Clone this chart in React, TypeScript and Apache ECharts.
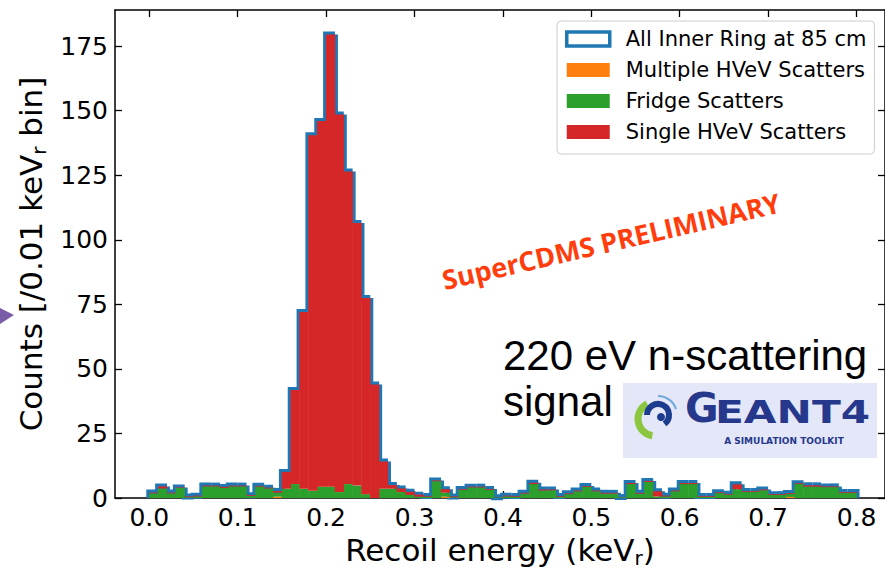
import React, { useEffect, useRef } from "react";
import * as echarts from "echarts";

// ---------- data (counts per 0.01 keVr bin, 0.00 .. 0.80) ----------
const binWidth = 0.01;
const fridgeScatters = [
  1.8, 3.7, 1.8, 3.9, 0.3, 0.6, 4.5, 4.5, 3.9, 4.5,
  4.5, 0.8, 4.4, 3.7, 1.6, 3.6, 5.4, 3.6, 2.8, 4.4,
  4.4, 2.3, 5.4, 4.8, 1.5, 0.0, 3.6, 3.6, 2.3, 1.2,
  0.5, 0.5, 6.5, 1.6, 0.3, 3.2, 4.1, 4.1, 3.2, 0.2,
  0.6, 0.5, 1.7, 5.4, 2.9, 3.0, 0.5, 1.5, 2.6, 4.3,
  2.6, 1.7, 1.7, 0.3, 5.4, 1.7, 6.2, 0.6, 0.6, 2.6,
  5.4, 5.4, 0.5, 0.5, 1.9, 1.3, 3.4, 2.4, 2.4, 3.0,
  1.2, 1.2, 1.2, 5.4, 4.4, 4.4, 4.2, 4.2, 2.0, 2.0,
];
const multipleScatters = [
  0, 0, 0, 0, 0, 0, 0, 0, 0, 0,
  0, 0, 0, 0, 0.5, 0, 0, 0, 0, 0,
  0, 0, 0, 0, 0, 0, 0, 0, 0, 0,
  0, 0, 0, 0.5, 0, 0, 0, 0, 0, 0,
  0, 0, 0, 0, 0, 0, 0, 0, 0, 0,
  0, 0, 0, 0, 0, 0, 0, 0, 0, 0,
  0, 0, 0, 0, 0, 0, 0, 0, 0, 0,
  0, 0, 0.4, 0, 0, 0, 0, 0, 0, 0,
];
const singleScatters = [
  0.3, 0.8, 0.3, 0.2, 0.3, 0.3, 0.3, 0.3, 0.4, 0.3,
  0.3, 0.3, 0.3, 0.3, 0.6, 6.5, 36.4, 68.4, 137.7, 141.6,
  175.1, 146.2, 121.1, 101.7, 76.0, 44.0, 10.5, 1.4, 1.4, 1.2,
  0.8, 0.3, 0.3, 1.3, 0.3, 0.3, 0.3, 0.3, 0.3, 0.1,
  0.3, 0.3, 0.3, 0.5, 0.4, 0.3, 0.3, 0.3, 0.3, 0.3,
  0.3, 0.3, 0.3, 0.1, 0.4, 0.3, 0.4, 2.0, 0.3, 0.3,
  0.4, 0.4, 0.3, 0.3, 0.3, 0.3, 1.9, 0.3, 0.3, 0.3,
  0.3, 0.3, 0.3, 0.3, 0.5, 0.5, 0.3, 0.3, 0.3, 0.3,
];
const xTicks = [0, 0.1, 0.2, 0.3, 0.4, 0.5, 0.6, 0.7, 0.8];
const yTicks = [0, 25, 50, 75, 100, 125, 150, 175];
const xRange = [-0.0388, 0.8322];
const yRange = [0, 189];

const seriesNames = {
  all: "All Inner Ring at 85 cm",
  multiple: "Multiple HVeV Scatters",
  fridge: "Fridge Scatters",
  single: "Single HVeV Scatters",
};
const colors = { all: "#1f77b4", multiple: "#ff7f0e", fridge: "#2ca02c", single: "#d62728" };

const FONT = "DejaVu Sans";

function buildStacks() {
  const m: number[][] = [];
  const f: number[][] = [];
  const s: number[][] = [];
  const outline: number[][] = [];
  let prev = 0;
  for (let i = 0; i < singleScatters.length; i++) {
    const x0 = i * binWidth;
    const x1 = x0 + binWidth;
    const a = multipleScatters[i];
    const b = a + fridgeScatters[i];
    const c = b + singleScatters[i];
    m.push([x0, x1, 0, a]);
    f.push([x0, x1, a, b]);
    s.push([x0, x1, b, c]);
    outline.push([x0, x1, c, prev, i === singleScatters.length - 1 ? 1 : 0]);
    prev = c;
  }
  return { m, f, s, outline };
}

const renderBar = (_params: any, api: any) => {
  const x0 = api.value(0);
  const x1 = api.value(1);
  const y0 = api.value(2);
  const y1 = api.value(3);
  if (!(y1 > y0)) return null;
  const p0 = api.coord([x0, y1]);
  const p1 = api.coord([x1, y0]);
  return {
    type: "rect",
    shape: { x: p0[0] - 0.25, y: p0[1], width: p1[0] - p0[0] + 0.5, height: p1[1] - p0[1] },
    style: { fill: api.visual("color") },
  };
};

const renderOutline = (_params: any, api: any) => {
  const x0 = api.value(0);
  const x1 = api.value(1);
  const top = api.value(2);
  const prev = api.value(3);
  const last = api.value(4);
  const pts = [api.coord([x0, prev]), api.coord([x0, top]), api.coord([x1, top])];
  if (last) pts.push(api.coord([x1, 0]));
  return {
    type: "polyline",
    shape: { points: pts },
    style: { stroke: colors.all, lineWidth: 6, fill: null, lineJoin: "miter", lineCap: "butt" },
  };
};

export default function App() {
  const ref = useRef<HTMLDivElement>(null);
  useEffect(() => {
    if (!ref.current) return;
    const chart = echarts.init(ref.current, null, { renderer: "svg" });
    const { m, f, s, outline } = buildStacks();
    const axisLineStyle = { color: "#000", width: 1.5 };
    const tickStyle = { color: "#000", width: 1.3 };
    const rich = {
      a: { fontFamily: FONT, fontSize: 31, color: "#000", lineHeight: 36 },
      s: { fontFamily: FONT, fontSize: 20, color: "#000", lineHeight: 20, verticalAlign: "bottom" },
    };
    chart.setOption({
      animation: false,
      backgroundColor: "#fff",
      grid: { left: 115, top: 10, width: 770, height: 488, containLabel: false, outerBoundsMode: "none" },
      xAxis: [
        {
          type: "value",
          min: xRange[0],
          max: xRange[1],
          position: "bottom",
          axisLine: { show: true, onZero: false, lineStyle: axisLineStyle },
          splitLine: { show: false },
          axisTick: { show: true, inside: true, length: 7, lineStyle: tickStyle, customValues: xTicks },
          axisLabel: {
            customValues: xTicks,
            formatter: (v: number) => v.toFixed(1),
            fontFamily: FONT,
            fontSize: 25,
            color: "#000",
            margin: 7,
          },
          name: "{a|Recoil energy (keV}{s|r}{a|)}",
          nameLocation: "middle",
          nameGap: 27,
          nameTextStyle: { rich },
        },
        {
          type: "value",
          min: xRange[0],
          max: xRange[1],
          position: "top",
          axisLine: { show: true, onZero: false, lineStyle: axisLineStyle },
          splitLine: { show: false },
          axisTick: { show: true, inside: true, length: 7, lineStyle: tickStyle, customValues: xTicks },
          axisLabel: { show: false },
        },
      ],
      yAxis: [
        {
          type: "value",
          min: yRange[0],
          max: yRange[1],
          position: "left",
          axisLine: { show: true, onZero: false, lineStyle: axisLineStyle },
          splitLine: { show: false },
          axisTick: { show: true, inside: true, length: 7, lineStyle: tickStyle, customValues: yTicks },
          axisLabel: {
            customValues: yTicks,
            fontFamily: FONT,
            fontSize: 25,
            color: "#000",
            margin: 7,
          },
          name: "{a|Counts [/0.01 keV}{s|r}{a| bin]}",
          nameLocation: "middle",
          nameGap: 54,
          nameTextStyle: { rich },
        },
        {
          type: "value",
          min: yRange[0],
          max: yRange[1],
          position: "right",
          axisLine: { show: true, onZero: false, lineStyle: axisLineStyle },
          splitLine: { show: false },
          axisTick: { show: true, inside: true, length: 7, lineStyle: tickStyle, customValues: yTicks },
          axisLabel: { show: false },
        },
      ],
      legend: {
        orient: "vertical",
        left: 557,
        top: 21,
        padding: [6, 8, 10, 8],
        itemWidth: 43,
        itemHeight: 14,
        itemGap: 7,
        selectedMode: false,
        backgroundColor: "rgba(255,255,255,0.8)",
        borderColor: "#cccccc",
        borderWidth: 1,
        borderRadius: 4,
        textStyle: { fontFamily: FONT, fontSize: 21, color: "#000", lineHeight: 24, padding: [0, 0, 0, 11] },
        data: [
          { name: seriesNames.all, icon: "rect", itemStyle: { color: "#ffffff", borderColor: colors.all, borderWidth: 3.5 } },
          { name: seriesNames.multiple, icon: "rect" },
          { name: seriesNames.fridge, icon: "rect" },
          { name: seriesNames.single, icon: "rect" },
        ],
      },
      series: [
        {
          type: "custom",
          name: seriesNames.all,
          renderItem: renderOutline,
          data: outline,
          itemStyle: { color: colors.all },
          encode: { x: [0, 1], y: [2, 3] },
          z: 1,
          silent: true,
        },
        {
          type: "custom",
          name: seriesNames.multiple,
          renderItem: renderBar,
          data: m,
          itemStyle: { color: colors.multiple },
          encode: { x: [0, 1], y: [2, 3] },
          z: 2,
          silent: true,
        },
        {
          type: "custom",
          name: seriesNames.fridge,
          renderItem: renderBar,
          data: f,
          itemStyle: { color: colors.fridge },
          encode: { x: [0, 1], y: [2, 3] },
          z: 2,
          silent: true,
        },
        {
          type: "custom",
          name: seriesNames.single,
          renderItem: renderBar,
          data: s,
          itemStyle: { color: colors.single },
          encode: { x: [0, 1], y: [2, 3] },
          z: 2,
          silent: true,
        },
      ],
      graphic: [
        {
          type: "text",
          x: 611,
          y: 241,
          rotation: (13 * Math.PI) / 180,
          style: {
            text: "SuperCDMS PRELIMINARY",
            fill: "#ff3d0d",
            font: 'bold 27px "Open Sans"',
            textAlign: "center",
            textVerticalAlign: "middle",
          },
        },
        {
          type: "text",
          left: 503,
          top: 334,
          style: { text: "220 eV n-scattering", fill: "#000", font: '42px "Liberation Sans"' },
        },
        {
          type: "text",
          left: 503,
          top: 380,
          style: { text: "signal", fill: "#000", font: '42px "Liberation Sans"' },
        },
        {
          type: "group",
          left: 623,
          top: 383,
          children: [
            { type: "rect", shape: { x: 0, y: 0, width: 254, height: 75 }, style: { fill: "#e4e7f7" } },
            { type: "arc", shape: { cx: 32, cy: 36, r: 17, startAngle: Math.PI * 0.55, endAngle: Math.PI * 1.35 }, style: { stroke: "#8cc63f", lineWidth: 7, fill: null } },
            { type: "arc", shape: { cx: 35, cy: 32, r: 11, startAngle: Math.PI * 1.0, endAngle: Math.PI * 2.3 }, style: { stroke: "#1c3d8f", lineWidth: 6, fill: null } },
            { type: "circle", shape: { cx: 38, cy: 34, r: 4 }, style: { fill: "#1c3d8f" } },
            { type: "arc", shape: { cx: 35, cy: 32, r: 19, startAngle: Math.PI * 1.5, endAngle: Math.PI * 1.9 }, style: { stroke: "#6fa8dc", lineWidth: 2, fill: null } },
            { type: "text", x: 62, y: 45, style: { text: "G", fill: "#26388c", font: 'bold 41px "DejaVu Sans"', textVerticalAlign: "bottom" } },
            { type: "text", x: 92, y: 45, scaleX: 1.32, style: { text: "EANT4", fill: "#26388c", font: 'bold 32px "DejaVu Sans"', textVerticalAlign: "bottom" } },
            { type: "text", x: 161, y: 58, style: { text: "A SIMULATION TOOLKIT", fill: "#26388c", font: 'bold 9px "DejaVu Sans"', textAlign: "center", textVerticalAlign: "middle" } },
          ],
        },
        {
          type: "polygon",
          shape: { points: [[0, 308], [14, 315], [0, 324]] },
          style: { fill: "#7b5ca8" },
        },
      ],
    });
    return () => chart.dispose();
  }, []);
  return (
    <div
      ref={ref}
      style={{ position: "fixed", left: 0, top: 0, width: 885, height: 567, background: "#fff" }}
    />
  );
}
